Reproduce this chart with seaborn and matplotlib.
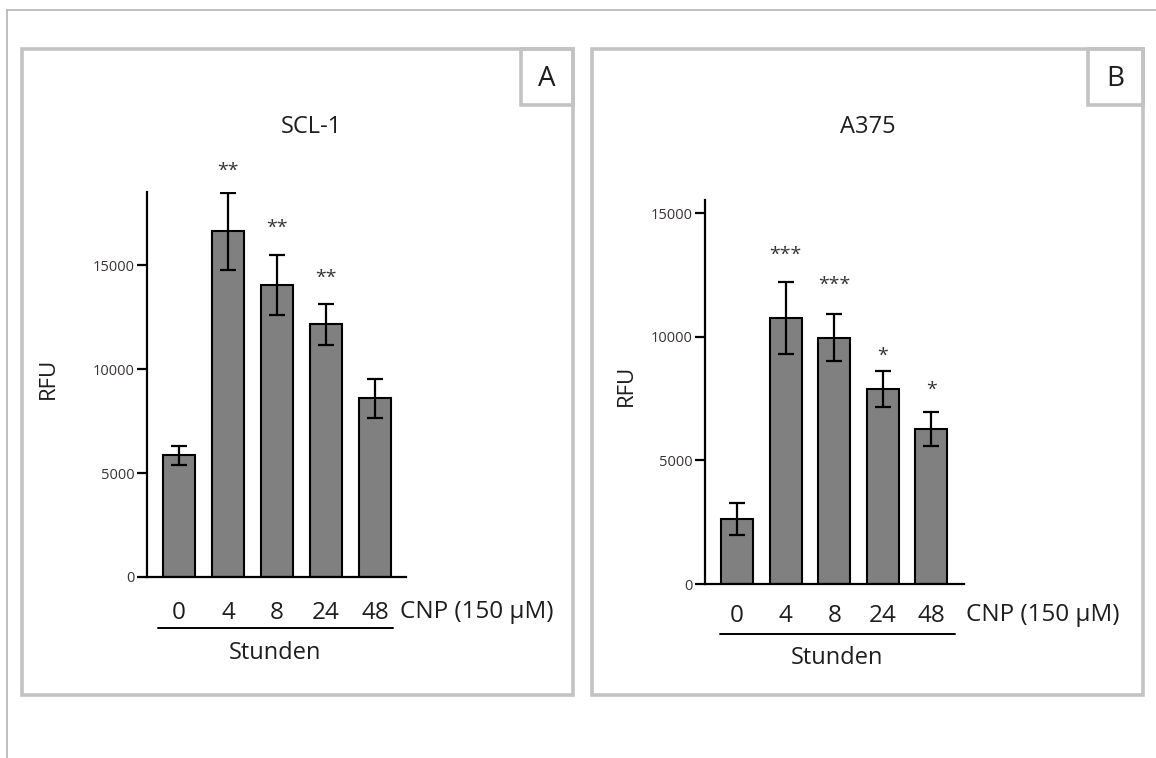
import numpy as np
import pandas as pd
import matplotlib
matplotlib.use('Agg')
import matplotlib.pyplot as plt
import seaborn as sns
from matplotlib.patches import Rectangle
from matplotlib.lines import Line2D

# data
hours = ['0', '4', '8', '24', '48']
scl1_mean = [5850, 16620, 14050, 12140, 8590]
scl1_err = [465, 1860, 1440, 990, 940]
scl1_stars = ['', '**', '**', '**', '']
scl1_star_y = [0, 19850, 17100, 14670, 0]

a375_mean = [2630, 10750, 9950, 7900, 6260]
a375_err = [665, 1460, 950, 730, 690]
a375_stars = ['', '***', '***', '*', '*']
a375_star_y = [0, 13570, 12350, 9460, 8100]

titles = ['SCL-1', 'A375']
letters = ['A', 'B']

sns.set_style('ticks')
plt.rcParams['font.family'] = ['Open Sans', 'DejaVu Sans']

W, H = 1156, 758
fig = plt.figure(figsize=(W / 100, H / 100), dpi=100)


def fx(x):
    return x / W


def fy(y):
    return 1 - y / H


txt = '#1e1e1e'

# outer guide lines and panel frames
fig.add_artist(Line2D([fx(7), fx(1156)], [fy(10), fy(10)], color='#b4b4b4', lw=1.2))
fig.add_artist(Line2D([fx(7), fx(7)], [fy(10), fy(758)], color='#b4b4b4', lw=1.2))
frames = [(22, 573, 521), (592, 1143, 1088)]
for (l, r, bl), let in zip(frames, letters):
    fig.add_artist(Rectangle((fx(l), fy(695)), fx(r - l), (695 - 49) / H, fill=False,
                             ec='#c3c3c3', lw=2.6))
    fig.add_artist(Rectangle((fx(bl), fy(105)), fx(r - bl), (105 - 49) / H, fill=False,
                             ec='#c3c3c3', lw=2.6))
    fig.text(fx((bl + r) / 2), fy(79), let, ha='center', va='center', fontsize=20, color=txt)

panels = [
    dict(pos=[fx(147), fy(577), fx(406 - 147), (577 - 192) / H], xlim=(-0.65, 4.63),
         ylim=18510, yticks=[0, 5000, 10000, 15000], pad=17,
         mean=scl1_mean, err=scl1_err, stars=scl1_stars, star_y=scl1_star_y,
         title=(311, 127), cnp=(400, 612), line=(158, 393, 628), stunden=653, rfu=(48, 378)),
    dict(pos=[fx(705), fy(584), fx(964 - 705), (584 - 200) / H], xlim=(-0.66, 4.67),
         ylim=15530, yticks=[0, 5000, 10000, 15000], pad=14.5,
         mean=a375_mean, err=a375_err, stars=a375_stars, star_y=a375_star_y,
         title=(868, 127), cnp=(966, 615), line=(720, 955, 634), stunden=658, rfu=(626, 385)),
]

for p, title in zip(panels, titles):
    ax = fig.add_axes(p['pos'])
    df = pd.DataFrame({'Stunden': hours, 'RFU': p['mean']})
    sns.barplot(data=df, x='Stunden', y='RFU', order=hours, color='#808080', saturation=1,
                edgecolor='black', linewidth=1.5, width=0.66, errorbar=None, ax=ax)
    xs = np.arange(len(hours))
    ax.errorbar(xs, p['mean'], yerr=p['err'], fmt='none', ecolor='black',
                elinewidth=1.6, capsize=5.8, capthick=1.6, zorder=5)
    for x, s, sy in zip(xs, p['stars'], p['star_y']):
        if s:
            ax.annotate(s, (x, sy), xytext=(0, -4.5), textcoords='offset points',
                        ha='center', va='center', fontsize=14, color='#333333',
                        annotation_clip=False)
    ax.set_xlim(*p['xlim'])
    ax.set_ylim(0, p['ylim'])
    ax.set_yticks(p['yticks'])
    ax.set_xlabel('')
    ax.set_ylabel('')
    sns.despine(ax=ax)
    for s in ['left', 'bottom']:
        ax.spines[s].set_linewidth(1.6)
        ax.spines[s].set_color('black')
    ax.tick_params(axis='y', length=7.2, width=1.6, color='black', labelsize=10.5,
                   labelcolor='#3a3434', pad=1.5)
    ax.tick_params(axis='x', length=0, labelsize=17.5, labelcolor=txt, pad=p['pad'])
    ax.patch.set_alpha(0)

    fig.text(fx(p['title'][0]), fy(p['title'][1]), title, ha='center', va='center',
             fontsize=17, color=txt)
    fig.text(fx(p['cnp'][0]), fy(p['cnp'][1]), 'CNP (150 µM)', ha='left', va='center',
             fontsize=17.5, color=txt)
    x0, x1, ly = p['line']
    fig.add_artist(Line2D([fx(x0), fx(x1)], [fy(ly), fy(ly)], color='black', lw=1.4))
    fig.text(fx((x0 + x1) / 2), fy(p['stunden']), 'Stunden', ha='center', va='center',
             fontsize=17, color=txt)
    fig.text(fx(p['rfu'][0]), fy(p['rfu'][1]), 'RFU', ha='center', va='center',
             rotation=90, fontsize=16, color=txt)

fig.savefig('out.png', dpi=100, facecolor='white')
